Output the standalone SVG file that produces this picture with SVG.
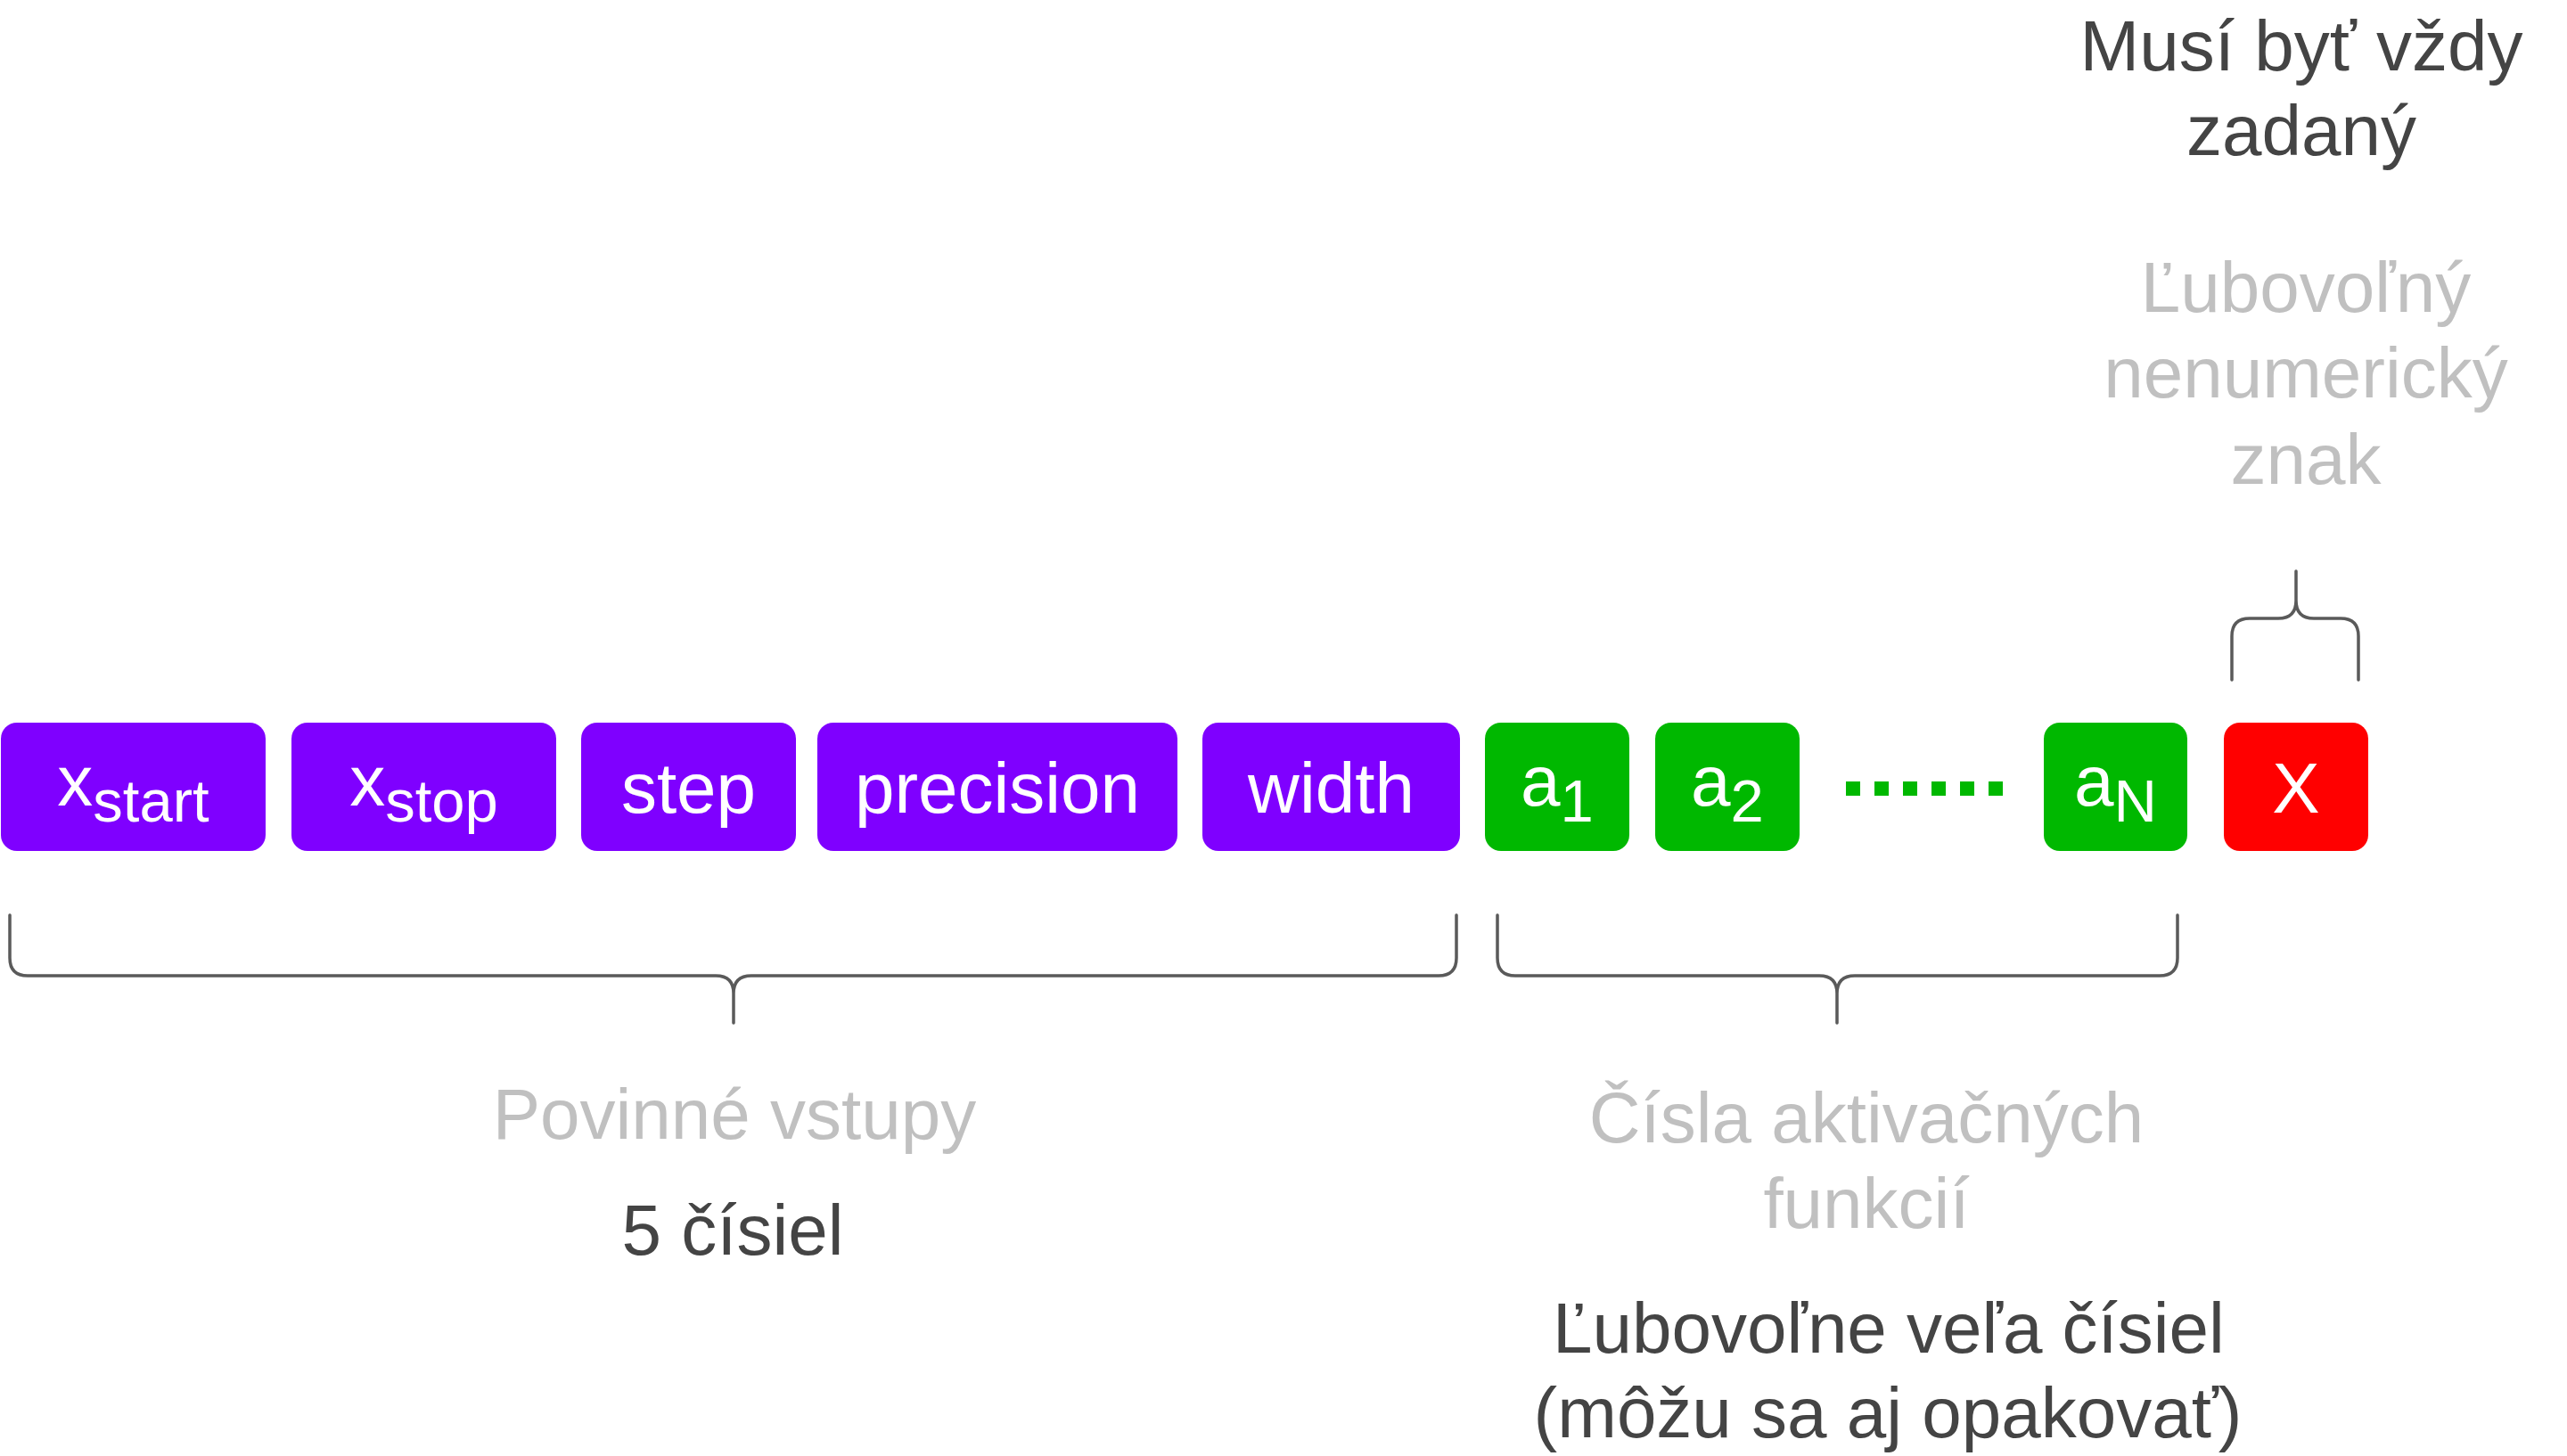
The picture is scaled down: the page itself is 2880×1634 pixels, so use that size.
<svg xmlns="http://www.w3.org/2000/svg" width="2880" height="1634" viewBox="0 0 2880 1634">
<style>
  text { font-family: "Liberation Sans", Arial, sans-serif; font-size: 80px; }
  .box-p { fill: #7f00ff; }
  .box-g { fill: #00b800; }
  .box-r { fill: #ff0000; }
  .lbl { fill: #ffffff; text-anchor: middle; }
  .sub { font-size: 67px; }
  .dark { fill: #444444; text-anchor: middle; }
  .light { fill: #c0c0c0; text-anchor: middle; }
  .brace { fill: none; stroke: #5a5a5a; stroke-width: 3.5; stroke-linecap: round; stroke-linejoin: round; }
  .dots { fill: none; stroke: #00b800; stroke-width: 16; stroke-dasharray: 16 16; }
</style>
<rect width="2880" height="1634" fill="#ffffff"/>

<g id="node-xstart">
  <rect class="box-p" x="1" y="811" width="297" height="144" rx="18"/>
  <text class="lbl" x="149.5" y="904">x<tspan class="sub" dy="18">start</tspan></text>
</g>
<g id="node-xstop">
  <rect class="box-p" x="327" y="811" width="297" height="144" rx="18"/>
  <text class="lbl" x="475.5" y="904">x<tspan class="sub" dy="18">stop</tspan></text>
</g>
<g id="node-step">
  <rect class="box-p" x="652" y="811" width="241" height="144" rx="18"/>
  <text class="lbl" x="772.5" y="912">step</text>
</g>
<g id="node-precision">
  <rect class="box-p" x="917" y="811" width="404" height="144" rx="18"/>
  <text class="lbl" x="1119" y="912">precision</text>
</g>
<g id="node-width">
  <rect class="box-p" x="1349" y="811" width="289" height="144" rx="18"/>
  <text class="lbl" x="1493.5" y="912">width</text>
</g>
<g id="node-a1">
  <rect class="box-g" x="1666" y="811" width="162" height="144" rx="18"/>
  <text class="lbl" x="1747" y="904">a<tspan class="sub" dy="18">1</tspan></text>
</g>
<g id="node-a2">
  <rect class="box-g" x="1857" y="811" width="162" height="144" rx="18"/>
  <text class="lbl" x="1938" y="904">a<tspan class="sub" dy="18">2</tspan></text>
</g>
<g id="node-aN">
  <rect class="box-g" x="2293" y="811" width="161" height="144" rx="18"/>
  <text class="lbl" x="2373.5" y="904">a<tspan class="sub" dy="18">N</tspan></text>
</g>
<g id="node-X">
  <rect class="box-r" x="2495" y="811" width="162" height="144" rx="18"/>
  <text class="lbl" x="2576" y="912">X</text>
</g>

<g id="connectors">
  <line class="dots" x1="2071" y1="885" x2="2247" y2="885"/>
  <path class="brace" d="M 11 1027 V 1075 Q 11 1095 31 1095 H 803 Q 823 1095 823 1115 V 1148 M 823 1115 Q 823 1095 843 1095 H 1614 Q 1634 1095 1634 1075 V 1027"/>
  <path class="brace" d="M 1680 1027 V 1075 Q 1680 1095 1700 1095 H 2041 Q 2061 1095 2061 1115 V 1148 M 2061 1115 Q 2061 1095 2081 1095 H 2423 Q 2443 1095 2443 1075 V 1027"/>
  <path class="brace" d="M 2504 763 V 714 Q 2504 694 2524 694 H 2556 Q 2576 694 2576 674 V 641 M 2576 674 Q 2576 694 2596 694 H 2626 Q 2646 694 2646 714 V 763"/>
</g>

<g id="label-top-dark">
  <text class="dark" x="2582" y="79">Musí byť vždy</text>
  <text class="dark" x="2582" y="174">zadaný</text>
</g>
<g id="label-top-light">
  <text class="light" x="2587" y="350">Ľubovoľný</text>
  <text class="light" x="2587" y="446">nenumerický</text>
  <text class="light" x="2587" y="543">znak</text>
</g>
<g id="label-left">
  <text class="light" x="824" y="1278">Povinné vstupy</text>
  <text class="dark" x="822" y="1408">5 čísiel</text>
</g>
<g id="label-right">
  <text class="light" x="2094" y="1282">Čísla aktivačných</text>
  <text class="light" x="2094" y="1378">funkcií</text>
  <text class="dark" x="2119" y="1518">Ľubovoľne veľa čísiel</text>
  <text class="dark" x="2118" y="1613">(môžu sa aj opakovať)</text>
</g>
</svg>
